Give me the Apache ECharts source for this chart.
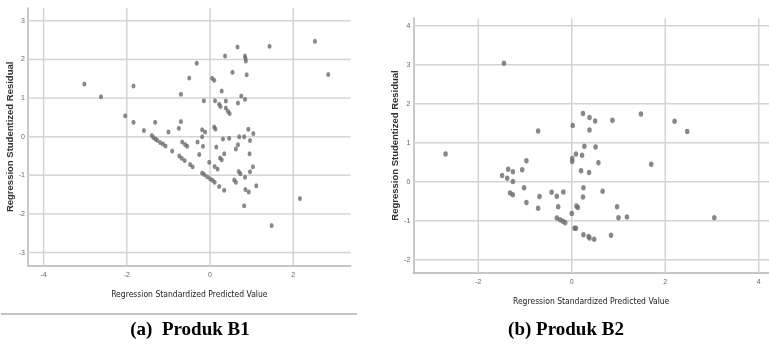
<!DOCTYPE html>
<html>
<head>
<meta charset="utf-8">
<script src="https://cdn.jsdelivr.net/npm/echarts@6/dist/echarts.min.js"></script>
<style>html,body{margin:0;padding:0;background:#fff}#c{width:769px;height:347px}</style>
</head>
<body>
<div id="c"></div>
<script>
// ---- data ----
const xTitle = 'Regression Standardized Predicted Value';
const yTitle = 'Regression Studentized Residual';
const captionA = '(a)  Produk B1';
const captionB = '(b) Produk B2';

const b1XTicks = [-4, -2, 0, 2];
const b1YTicks = [-3, -2, -1, 0, 1, 2, 3];
const b2XTicks = [-2, 0, 2, 4];
const b2YTicks = [-2, -1, 0, 1, 2, 3, 4];

const b1XRange = [-4.375, 3.38];
const b1YRange = [-3.34, 3.33];
const b2XRange = [-3.39, 4.22];
const b2YRange = [-2.33, 4.19];

const b1Points = [
  [-3.02,1.36],[-2.62,1.03],[-1.84,1.31],[-2.04,0.54],[-1.84,0.37],[-1.59,0.16],[-1.32,0.37],[-1.00,0.12],
  [-0.75,0.22],[-0.70,0.39],[-0.70,1.10],[-0.50,1.52],[-0.32,1.90],
  [0.36,2.09],[0.66,2.32],[0.05,1.51],[0.10,1.46],[0.54,1.67],[0.84,2.09],[0.85,2.03],[0.86,1.96],[0.88,1.60],
  [1.43,2.34],[2.52,2.47],[2.84,1.61],
  [0.28,1.18],[-0.15,0.93],[0.12,0.93],[0.22,0.84],[0.25,0.78],[0.38,0.92],[0.38,0.74],[0.43,0.66],[0.47,0.60],
  [0.67,0.87],[0.75,1.05],[0.84,0.97],
  [0.10,0.25],[0.13,0.20],[-0.19,0.18],[-0.12,0.12],[-0.19,0.00],
  [0.31,-0.06],[0.46,-0.04],[0.70,0.00],[0.82,0.00],[0.92,0.19],[1.04,0.08],[0.96,-0.10],
  [-0.30,-0.14],[-0.17,-0.25],[-0.26,-0.46],[0.15,-0.27],[0.34,-0.44],[0.62,-0.32],[0.67,-0.21],[0.95,-0.44],
  [0.24,-0.55],[0.28,-0.60],[-0.02,-0.66],[0.11,-0.77],[0.18,-0.84],
  [1.03,-0.78],[0.96,-0.91],[0.69,-0.90],[0.73,-0.96],[0.84,-1.05],[0.58,-1.12],[0.62,-1.18],[0.85,-1.37],
  [0.93,-1.43],[1.11,-1.27],[0.82,-1.79],[1.48,-2.30],[2.16,-1.60],
  [-0.19,-0.94],[-0.14,-0.98],[-0.07,-1.04],[0.00,-1.09],[0.06,-1.13],[0.11,-1.18],[0.22,-1.29],[0.34,-1.39],
  [-1.40,0.03],[-1.36,-0.02],[-1.31,-0.06],[-1.27,-0.09],[-1.20,-0.15],[-1.13,-0.19],[-1.07,-0.24],
  [-0.91,-0.37],[-0.74,-0.50],[-0.68,-0.56],[-0.61,-0.62],[-0.48,-0.72],[-0.42,-0.78],
  [-0.67,-0.14],[-0.60,-0.20],[-0.55,-0.25]
];

const b2Points = [
  [-2.70,0.71],[-1.45,3.04],[-0.72,1.30],[0.02,1.44],[0.24,1.75],[0.38,1.65],[0.50,1.56],[0.38,1.33],
  [0.87,1.58],[1.48,1.74],[2.20,1.55],[2.47,1.29],
  [0.27,0.91],[0.51,0.89],[0.09,0.71],[0.22,0.68],[0.01,0.60],[0.01,0.52],[0.57,0.49],[0.20,0.28],[0.37,0.24],[1.70,0.45],
  [-0.97,0.54],[-1.06,0.31],[-1.36,0.32],[-1.26,0.26],[-1.49,0.16],[-1.38,0.09],[-1.26,0.01],
  [-1.32,-0.29],[-1.26,-0.33],[-1.02,-0.15],[-0.97,-0.53],[-0.69,-0.38],[-0.72,-0.68],
  [-0.43,-0.27],[-0.32,-0.37],[-0.18,-0.26],[-0.29,-0.64],
  [0.25,-0.15],[0.24,-0.39],[0.66,-0.24],[0.10,-0.62],[0.13,-0.66],[0.00,-0.81],
  [-0.32,-0.93],[-0.25,-0.97],[-0.19,-1.01],[-0.14,-1.05],[0.06,-1.19],[0.09,-1.19],
  [0.25,-1.36],[0.36,-1.40],[0.38,-1.44],[0.48,-1.47],[0.84,-1.37],
  [0.97,-0.64],[1.00,-0.92],[1.18,-0.90],[3.05,-0.92]
];

// ---- chart ----
const gridColor = '#d4d4d4';
const axisColor = '#b4b4b4';
const labelStyle = {color:'#666', fontSize:7, fontFamily:'"Liberation Sans", Arial, sans-serif'};
const xNameStyle = {color:'#222', fontSize:8.5, fontFamily:'"Liberation Sans Narrow", "DejaVu Sans Condensed", "Liberation Sans", sans-serif'};
const yNameStyle = {color:'#333', fontSize:9.5, fontWeight:'bold', fontFamily:'"Liberation Sans", Arial, sans-serif'};

function xAxis(gridIndex, range, ticks, gap){
  return {
    type:'value', gridIndex, min:range[0], max:range[1],
    name: xTitle, nameLocation:'middle', nameGap: gap, nameTextStyle: xNameStyle,
    axisLine:{show:true, onZero:false, lineStyle:{color:axisColor, width:1.5}},
    axisTick:{show:false},
    axisLabel:Object.assign({customValues: ticks, margin: 6}, labelStyle),
    splitLine:{show:false}
  };
}
function yAxis(gridIndex, range, ticks, gap){
  return {
    type:'value', gridIndex, min:range[0], max:range[1],
    name: yTitle, nameLocation:'middle', nameGap: gap, nameTextStyle: yNameStyle,
    axisLine:{show:true, onZero:false, lineStyle:{color:axisColor, width:1.5}},
    axisTick:{show:false},
    axisLabel:Object.assign({customValues: ticks, margin: 3}, labelStyle),
    splitLine:{show:false}
  };
}
// one thin line series per tick value, drawn through the axes' scales
function gridSeries(idx, xTicks, yTicks, xRange, yRange){
  const base = {type:'line', xAxisIndex:idx, yAxisIndex:idx, symbol:'none', silent:true, z:1,
    animation:false, lineStyle:{color:gridColor, width:1.5}, emphasis:{disabled:true}, tooltip:{show:false}};
  const out = [];
  xTicks.forEach(v => out.push(Object.assign({}, base, {data:[[v, yRange[0]], [v, yRange[1]]]})));
  yTicks.forEach(v => out.push(Object.assign({}, base, {data:[[xRange[0], v], [xRange[1], v]]})));
  return out;
}

const chart = echarts.init(document.getElementById('c'), null, {renderer:'canvas'});
chart.setOption({
  animation:false,
  backgroundColor:'#fff',
  grid:[
    {left:28, top:8, width:322.7, height:257.7, outerBoundsMode:'none'},
    {left:413.3, top:18.3, width:355.7, height:254.4, outerBoundsMode:'none'}
  ],
  xAxis:[ xAxis(0, b1XRange, b1XTicks, 25), xAxis(1, b2XRange, b2XTicks, 25) ],
  yAxis:[ yAxis(0, b1YRange, b1YTicks, 11), yAxis(1, b2YRange, b2YTicks, 12) ],
  series: gridSeries(0, b1XTicks, b1YTicks, b1XRange, b1YRange)
    .concat(gridSeries(1, b2XTicks, b2YTicks, b2XRange, b2YRange))
    .concat([
      {type:'scatter', xAxisIndex:0, yAxisIndex:0, data:b1Points, symbol:'circle', symbolSize:[4,5], z:3,
       itemStyle:{color:'#6a6a6a'}},
      {type:'scatter', xAxisIndex:1, yAxisIndex:1, data:b2Points, symbol:'circle', symbolSize:[4.5,5.5], z:3,
       itemStyle:{color:'#6a6a6a'}}
    ]),
  graphic:[
    {type:'line', shape:{x1:1, y1:314, x2:357, y2:314}, style:{stroke:'#8a8a8a', lineWidth:1}},
    {type:'text', x:190, y:330, style:{text:captionA, align:'center', verticalAlign:'middle',
      font:'bold 19px "Liberation Serif", "Times New Roman", serif', fill:'#000'}},
    {type:'text', x:566, y:330, style:{text:captionB, align:'center', verticalAlign:'middle',
      font:'bold 19px "Liberation Serif", "Times New Roman", serif', fill:'#000'}}
  ]
});
</script>
</body>
</html>
